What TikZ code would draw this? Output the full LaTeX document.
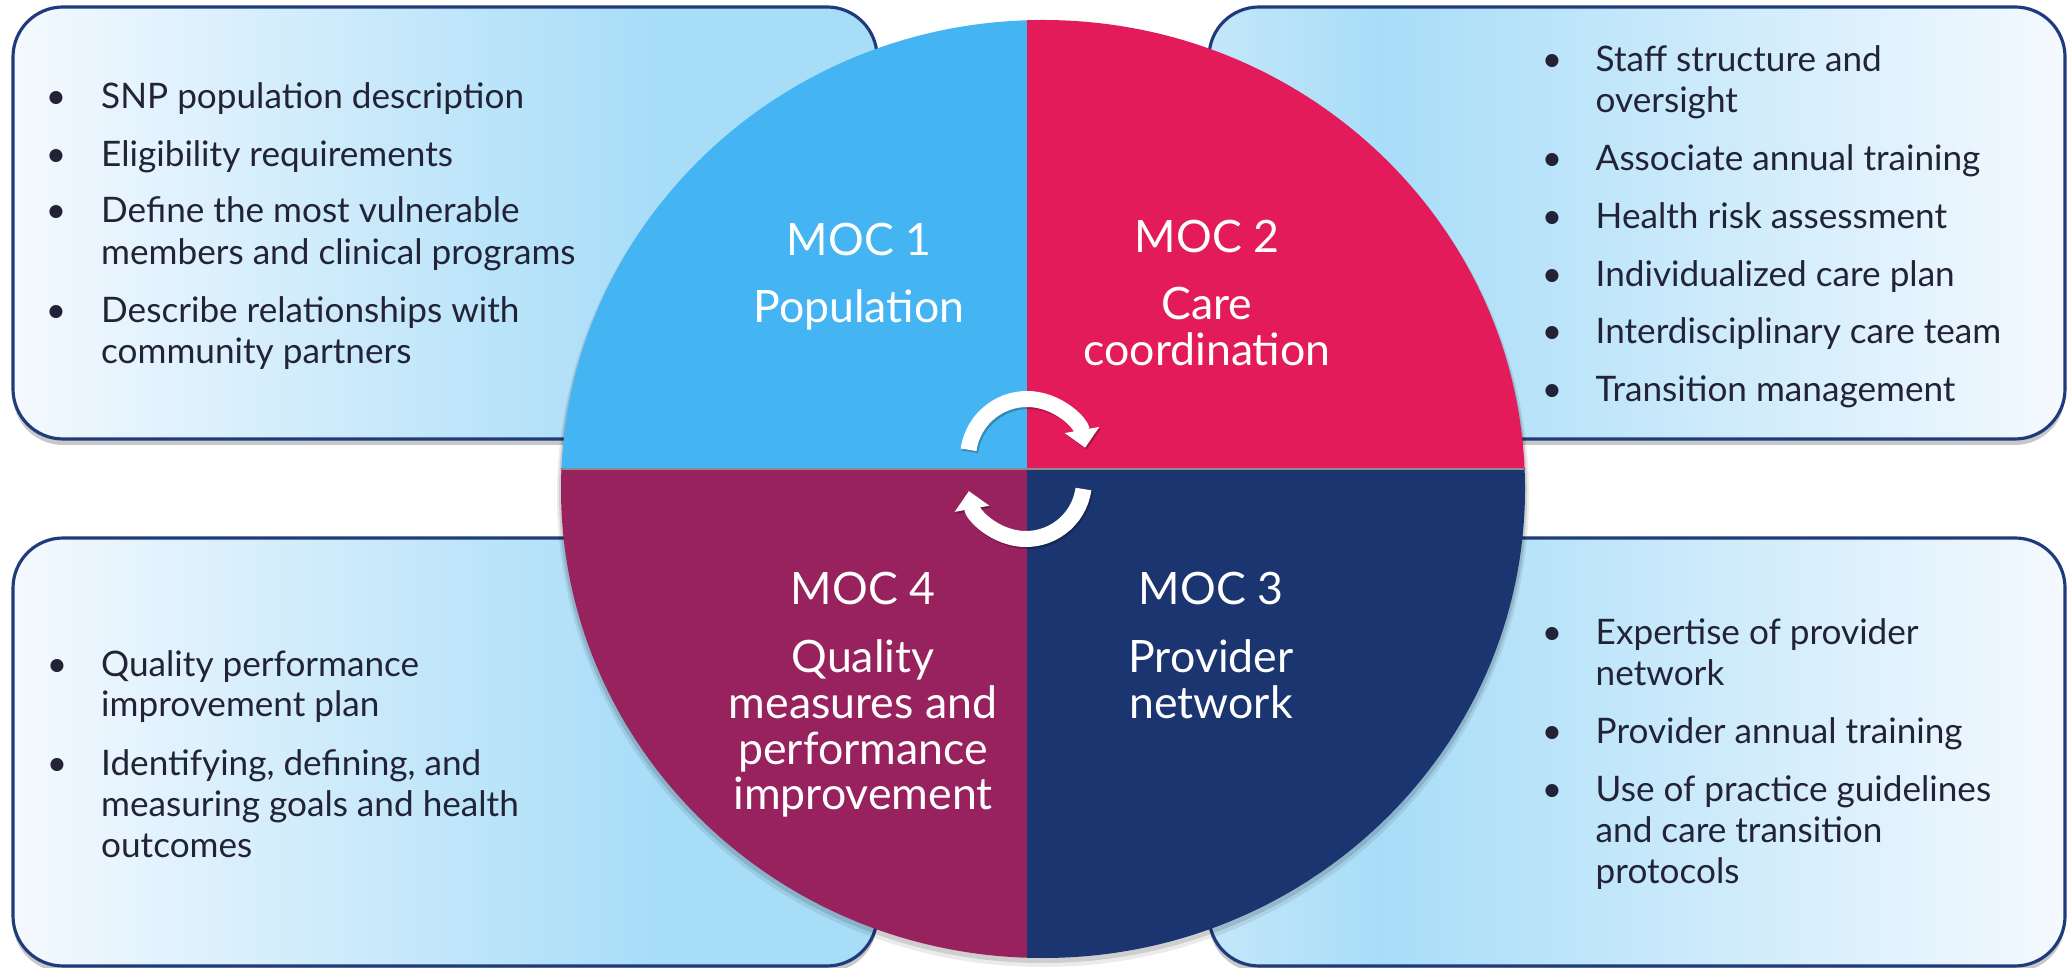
\documentclass[tikz,border=0pt]{standalone}
\usepackage{fontspec}
\setmainfont{Lato}
\usetikzlibrary{shadows,arrows.meta}
\definecolor{boxblue}{HTML}{A8DDF8}
\definecolor{boxmid}{HTML}{C4E7F9}
\definecolor{boxlight}{HTML}{F4F9FE}
\definecolor{boxline}{HTML}{1F3B7C}
\definecolor{qblue}{HTML}{44B5F2}
\definecolor{qred}{HTML}{E31B5A}
\definecolor{qpurple}{HTML}{98225E}
\definecolor{qnavy}{HTML}{1B3570}
\definecolor{txt}{HTML}{232338}
\pgfdeclarehorizontalshading{lboxshade}{100bp}{color(0bp)=(boxlight); color(25bp)=(boxlight); color(62bp)=(boxblue); color(100bp)=(boxblue)}
\pgfdeclarehorizontalshading{rboxshade}{100bp}{color(0bp)=(boxmid); color(25bp)=(boxmid); color(35bp)=(boxblue); color(75bp)=(boxlight); color(100bp)=(boxlight)}
\tikzset{
  boxbase/.style={draw=boxline, line width=0.9pt, rounded corners=0.5cm, inner sep=0pt,
    drop shadow={shadow xshift=0cm, shadow yshift=-0.06cm, opacity=0.3, fill=black!70}},
  lbox/.style={boxbase, shading=lboxshade},
  rbox/.style={boxbase, shading=rboxshade},
  btxt/.style={anchor=base west, text=txt, inner sep=0pt, font=\fontsize{10}{12}\selectfont},
  bul/.style={anchor=base, text=txt, inner sep=0pt, font=\fontsize{10}{12}\selectfont},
  moc/.style={anchor=base, text=white, inner sep=0pt, font=\fontsize{12.7}{14}\selectfont},
  cyc/.style={white, line width=0.16cm, -{Triangle[length=1.8mm, width=3.4mm]}},
  cycshadow/.style={black, opacity=0.25, line width=0.16cm, -{Triangle[length=1.8mm, width=3.4mm]}}
}
\begin{document}
\begin{tikzpicture}
\useasboundingbox (0,0) rectangle (20.67,9.67);
\fill[white] (0,0) rectangle (20.67,9.67);
% boxes
\node[lbox, minimum width=8.64cm, minimum height=4.32cm] (b1) at (4.45,7.44) {};
\node[rbox, minimum width=8.56cm, minimum height=4.32cm] (b2) at (16.37,7.44) {};
\node[lbox, minimum width=8.64cm, minimum height=4.28cm] (b4) at (4.45,2.15) {};
\node[rbox, minimum width=8.56cm, minimum height=4.28cm] (b3) at (16.37,2.15) {};
% circle shadow
\fill[black, opacity=0.08] (10.43,4.72) ellipse [x radius=4.86, y radius=4.72];
\fill[black, opacity=0.12] (10.43,4.74) ellipse [x radius=4.84, y radius=4.70];
% quadrants
\begin{scope}
\clip (10.27,4.98) rectangle (0,9.67);
\fill[qblue] (10.43,4.78) ellipse [x radius=4.82, y radius=4.69];
\end{scope}
\begin{scope}
\clip (10.27,4.98) rectangle (20.67,9.67);
\fill[qred] (10.43,4.78) ellipse [x radius=4.82, y radius=4.69];
\end{scope}
\begin{scope}
\clip (10.27,4.98) rectangle (0,0);
\fill[qpurple] (10.43,4.78) ellipse [x radius=4.82, y radius=4.69];
\end{scope}
\begin{scope}
\clip (10.27,4.98) rectangle (20.67,0);
\fill[qnavy] (10.43,4.78) ellipse [x radius=4.82, y radius=4.69];
\end{scope}
\coordinate (hl) at (5.62,4.98);
\coordinate (hr) at (15.24,4.98);
\draw[black!45, line width=0.02cm] (hl) -- (hr);
% cycle arrows
\coordinate (ct) at (10.27,5.09);
\coordinate (cb) at (10.26,4.86);
\draw[cycshadow] ([shift={(0.015,-0.02)}]ct) ++(172:0.59) arc[start angle=172, end angle=10, radius=0.59];
\draw[cycshadow] ([shift={(0.015,-0.02)}]cb) ++(-8:0.58) arc[start angle=-8, end angle=-170, radius=0.58];
\draw[cyc] (ct) ++(172:0.59) arc[start angle=172, end angle=10, radius=0.59];
\draw[cyc] (cb) ++(-8:0.58) arc[start angle=-8, end angle=-170, radius=0.58];
% MOC labels
\node[moc] (m1a) at (8.59,7.11) {MOC 1};
\node[moc] (m1b) at (8.59,6.44) {Population};
\node[moc] (m2a) at (12.07,7.14) {MOC 2};
\node[moc] (m2b) at (12.07,6.47) {Care};
\node[moc] (m2c) at (12.07,6.01) {coordination};
\node[moc] (m4a) at (8.63,3.62) {MOC 4};
\node[moc] (m4b) at (8.63,2.94) {Quality};
\node[moc] (m4c) at (8.63,2.48) {measures and};
\node[moc] (m4d) at (8.63,2.02) {performance};
\node[moc] (m4e) at (8.63,1.57) {improvement};
\node[moc] (m3a) at (12.11,3.62) {MOC 3};
\node[moc] (m3b) at (12.11,2.94) {Provider};
\node[moc] (m3c) at (12.11,2.48) {network};
% top-left box text
\node[bul] (p1) at (0.56,8.58) {•};
\node[bul] (p2) at (0.56,8.00) {•};
\node[bul] (p3) at (0.56,7.44) {•};
\node[bul] (p4) at (0.56,6.44) {•};
\node[btxt] (t1a) at (1.005,8.58) {SNP population description};
\node[btxt] (t1b) at (1.005,8.00) {Eligibility requirements};
\node[btxt] (t1c) at (1.005,7.44) {Define the most vulnerable};
\node[btxt] (t1d) at (1.005,7.02) {members and clinical programs};
\node[btxt] (t1e) at (1.005,6.44) {Describe relationships with};
\node[btxt] (t1f) at (1.005,6.03) {community partners};
% top-right box text
\node[bul] (q1) at (15.52,8.95) {•};
\node[bul] (q2) at (15.52,7.96) {•};
\node[bul] (q3) at (15.52,7.38) {•};
\node[bul] (q4) at (15.52,6.80) {•};
\node[bul] (q5) at (15.52,6.23) {•};
\node[bul] (q6) at (15.52,5.65) {•};
\node[btxt] (t2a) at (15.95,8.95) {Staff structure and};
\node[btxt] (t2b) at (15.95,8.54) {oversight};
\node[btxt] (t2c) at (15.95,7.96) {Associate annual training};
\node[btxt] (t2d) at (15.95,7.38) {Health risk assessment};
\node[btxt] (t2e) at (15.95,6.80) {Individualized care plan};
\node[btxt] (t2f) at (15.95,6.23) {Interdisciplinary care team};
\node[btxt] (t2g) at (15.95,5.65) {Transition management};
% bottom-left box text
\node[bul] (r1) at (0.57,2.90) {•};
\node[bul] (r2) at (0.57,1.91) {•};
\node[btxt] (t4a) at (1.005,2.90) {Quality performance};
\node[btxt] (t4b) at (1.005,2.50) {improvement plan};
\node[btxt] (t4c) at (1.005,1.91) {Identifying, defining, and};
\node[btxt] (t4d) at (1.005,1.50) {measuring goals and health};
\node[btxt] (t4e) at (1.005,1.09) {outcomes};
% bottom-right box text
\node[bul] (s1) at (15.52,3.22) {•};
\node[bul] (s2) at (15.52,2.23) {•};
\node[bul] (s3) at (15.52,1.65) {•};
\node[btxt] (t3a) at (15.95,3.22) {Expertise of provider};
\node[btxt] (t3b) at (15.95,2.81) {network};
\node[btxt] (t3c) at (15.95,2.23) {Provider annual training};
\node[btxt] (t3d) at (15.95,1.65) {Use of practice guidelines};
\node[btxt] (t3e) at (15.95,1.24) {and care transition};
\node[btxt] (t3f) at (15.95,0.84) {protocols};
\end{tikzpicture}
\end{document}
